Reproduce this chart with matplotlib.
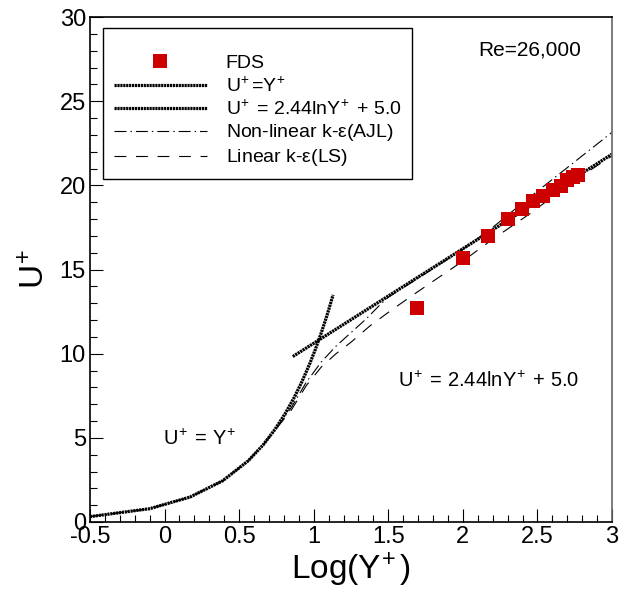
import matplotlib
matplotlib.use("Agg")
import matplotlib.pyplot as plt
from matplotlib.ticker import MultipleLocator

plt.rcParams['font.family'] = ['Liberation Sans', 'DejaVu Sans']
plt.rcParams['mathtext.fontset'] = 'custom'
plt.rcParams['mathtext.rm'] = 'Liberation Sans'
plt.rcParams['mathtext.it'] = 'Liberation Sans'
plt.rcParams['lines.scale_dashes'] = False

# FDS results
fds_x = [1.69, 2.00, 2.17, 2.30, 2.395, 2.472, 2.54, 2.602, 2.656, 2.696, 2.74, 2.775]
fds_u = [12.7, 15.7, 16.99, 18.0, 18.58, 19.07, 19.37, 19.73, 19.98, 20.32, 20.52, 20.62]

# viscous sublayer U+=Y+
visc_x = [-0.5, -0.1, 0.17, 0.39, 0.56, 0.66, 0.74, 0.81, 0.87, 0.92, 0.97, 1.01, 1.05, 1.09, 1.13]
visc_u = [0.32, 0.79, 1.48, 2.45, 3.63, 4.57, 5.5, 6.46, 7.41, 8.32, 9.33, 10.23, 11.22, 12.3, 13.49]

# log law U+ = 2.44 ln Y+ + 5.0
log_x = [0.86, 3.0]
log_u = [9.83, 21.85]

# Non-linear k-e (AJL)
ajl_x = [-0.5, -0.1, 0.17, 0.39, 0.56, 0.66, 0.74, 0.85, 0.95, 1.05, 1.15, 1.25, 1.35, 1.45, 1.5,
         1.8, 2.0, 2.2, 2.4, 2.6, 2.8, 3.0]
ajl_u = [0.32, 0.79, 1.48, 2.45, 3.63, 4.57, 5.45, 6.8, 8.3, 9.5, 10.45, 11.25, 12.05, 12.95, 13.35,
         15.05, 16.2, 17.5, 18.95, 20.35, 21.75, 23.15]

# Linear k-e (LS)
ls_x = [-0.5, -0.1, 0.17, 0.39, 0.56, 0.66, 0.74, 0.85, 0.95, 1.05, 1.15, 1.25, 1.377, 1.523,
        1.668, 1.8, 2.0, 2.2, 2.47, 2.7, 3.0]
ls_u = [0.32, 0.79, 1.48, 2.45, 3.63, 4.57, 5.45, 6.65, 8.1, 9.2, 10.0, 10.68, 11.65, 12.6,
        13.5, 14.3, 15.5, 16.8, 18.44, 20.0, 21.75]

U = r'$\mathregular{U^{\!+}}$'
Y = r'$\mathregular{Y^{\!+}}$'

fig = plt.figure(figsize=(6.32, 5.96), dpi=100)
ax = fig.add_axes([90 / 632, 1 - 522 / 596, 522 / 632, 505 / 596])

dense = (0, (1.6, 0.5))
ax.plot(ajl_x, ajl_u, color='black', lw=0.8, linestyle=(0, (8.6, 2.9, 1.0, 2.9)),
        label=r'Non-linear k-$\varepsilon$(AJL)')
ax.plot(ls_x, ls_u, color='black', lw=0.8, linestyle=(0, (8.5, 7.0)),
        label=r'Linear k-$\varepsilon$(LS)')
ax.plot(visc_x, visc_u, color='black', lw=2.3, linestyle=dense, label=U + '=' + Y)
ax.plot(log_x, log_u, color='black', lw=2.3, linestyle=dense,
        label=U + ' = 2.44ln' + Y + ' + 5.0')
ax.plot(fds_x, fds_u, 's', color='#cc0000', markersize=9.5, markeredgewidth=0, label='FDS')

ax.set_xlim(-0.5, 3)
ax.set_ylim(0, 30)
ax.xaxis.set_major_locator(MultipleLocator(0.5))
ax.xaxis.set_minor_locator(MultipleLocator(0.1))
ax.yaxis.set_major_locator(MultipleLocator(5))
ax.yaxis.set_minor_locator(MultipleLocator(1))
ax.set_xticks([-0.5, 0, 0.5, 1, 1.5, 2, 2.5, 3])
ax.set_xticklabels(['-0.5', '0', '0.5', '1', '1.5', '2', '2.5', '3'])
ax.tick_params(which='both', direction='in', top=False, right=False, labelsize=17, width=0.8)
ax.tick_params(which='major', length=9.5, pad=3)
ax.tick_params(which='minor', length=5.2)
for s in ax.spines.values():
    s.set_linewidth(1.2)
ax.spines['right'].set_color('#666666')

ax.set_xlabel(r'$\mathregular{Log(Y^{\!+})}$', fontsize=24, labelpad=2)
ax.set_ylabel(U, fontsize=24, labelpad=6)

ax.text(0.94, 0.935, 'Re=26,000', transform=ax.transAxes, fontsize=15, ha='right', va='center')
ax.text(0.59, 0.28, U + ' = 2.44ln' + Y + ' + 5.0', transform=ax.transAxes,
        fontsize=14.5, ha='left', va='center')
ax.text(0.14, 0.165, U + ' = ' + Y, transform=ax.transAxes,
        fontsize=14.5, ha='left', va='center')

handles, labels = ax.get_legend_handles_labels()
order = [4, 2, 3, 0, 1]
leg = ax.legend([handles[i] for i in order], [labels[i] for i in order],
                loc='upper left', bbox_to_anchor=(13 / 522, 1 - 11 / 505), fontsize=14,
                frameon=True, fancybox=False, edgecolor='black', framealpha=1,
                handlelength=4.8, handletextpad=0.95, labelspacing=0.2, borderpad=0.55,
                borderaxespad=0, markerscale=1.0, title=' ', title_fontsize=9)
leg.get_frame().set_linewidth(1.0)

fig.savefig('out.png', dpi=100)
